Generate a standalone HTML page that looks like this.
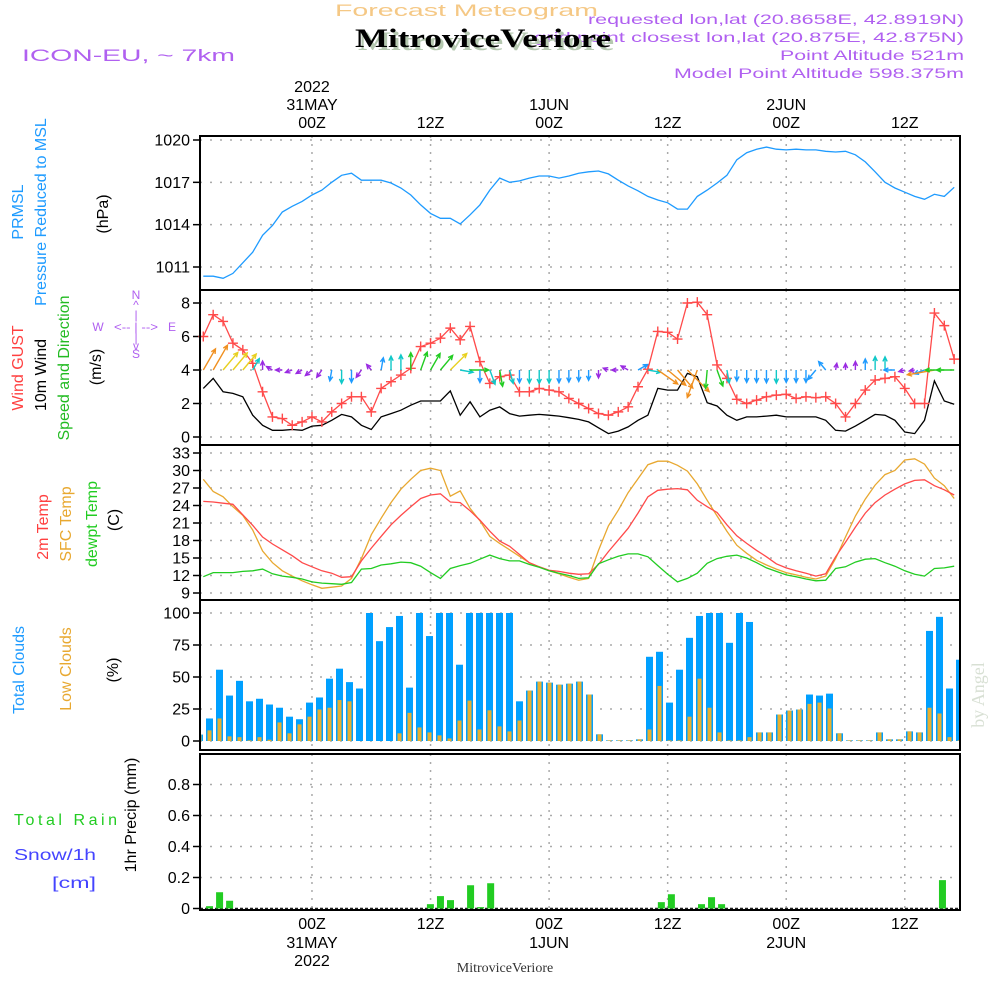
<!DOCTYPE html>
<html><head><meta charset="utf-8"><style>
html,body{margin:0;padding:0;background:#fff;}
svg{display:block;font-family:"Liberation Sans",sans-serif;}
</style></head><body>
<svg id="chart" width="1000" height="1000" viewBox="0 0 1000 1000" xmlns="http://www.w3.org/2000/svg">
<defs><clipPath id="clipPlot"><rect x="200" y="0" width="760" height="1000"/></clipPath></defs>
<g>
<text x="335" y="16" font-size="17" fill="#f5c885" textLength="263" lengthAdjust="spacingAndGlyphs">Forecast Meteogram</text>
<text x="964" y="24" font-size="14" fill="#b060f0" text-anchor="end" textLength="376" lengthAdjust="spacingAndGlyphs">requested lon,lat (20.8658E, 42.8919N)</text>
<text x="964" y="42" font-size="14" fill="#b060f0" text-anchor="end" textLength="430" lengthAdjust="spacingAndGlyphs">grid point closest lon,lat (20.875E, 42.875N)</text>
<text x="964" y="60" font-size="14" fill="#b060f0" text-anchor="end" textLength="184" lengthAdjust="spacingAndGlyphs">Point Altitude 521m</text>
<text x="964" y="78" font-size="14" fill="#b060f0" text-anchor="end" textLength="290" lengthAdjust="spacingAndGlyphs">Model Point Altitude 598.375m</text>
<text x="22" y="61" font-size="17" fill="#b060f0" textLength="213" lengthAdjust="spacingAndGlyphs">ICON-EU, ~ 7km</text>
<text x="358" y="50" font-size="26" font-weight="bold" fill="#b5c8b0" font-family="Liberation Serif,serif" textLength="256" lengthAdjust="spacingAndGlyphs">MitroviceVeriore</text>
<text x="355" y="47" font-size="26" font-weight="bold" fill="#000" font-family="Liberation Serif,serif" textLength="256" lengthAdjust="spacingAndGlyphs">MitroviceVeriore</text>
</g>
<g id="axes"></g>
<g font-size="16">
<text transform="translate(23,212) rotate(-90)" text-anchor="middle" fill="#1e9bff">PRMSL</text>
<text transform="translate(46,212) rotate(-90)" text-anchor="middle" fill="#1e9bff">Pressure Reduced to MSL</text>
<text transform="translate(108,214) rotate(-90)" text-anchor="middle" fill="#000">(hPa)</text>
<text transform="translate(23,368) rotate(-90)" text-anchor="middle" fill="#ff4040">Wind GUST</text>
<text transform="translate(46,375) rotate(-90)" text-anchor="middle" fill="#000">10m Wind</text>
<text transform="translate(69,368) rotate(-90)" text-anchor="middle" fill="#22bb22">Speed and Direction</text>
<text transform="translate(101,367) rotate(-90)" text-anchor="middle" fill="#000">(m/s)</text>
<text transform="translate(48,527) rotate(-90)" text-anchor="middle" fill="#ff4040">2m Temp</text>
<text transform="translate(71,524) rotate(-90)" text-anchor="middle" fill="#e8a830">SFC Temp</text>
<text transform="translate(97,524) rotate(-90)" text-anchor="middle" fill="#22cc22">dewpt Temp</text>
<text transform="translate(119,520) rotate(-90)" text-anchor="middle" fill="#000">(C)</text>
<text transform="translate(24,670) rotate(-90)" text-anchor="middle" fill="#1e9bff">Total Clouds</text>
<text transform="translate(71,669) rotate(-90)" text-anchor="middle" fill="#e8a830">Low Clouds</text>
<text transform="translate(118,670) rotate(-90)" text-anchor="middle" fill="#000">(%)</text>
<text transform="translate(136,815) rotate(-90)" text-anchor="middle" fill="#000">1hr Precip (mm)</text>
<text x="14" y="825" fill="#22cc22" textLength="103" lengthAdjust="spacing">Total  Rain</text>
<text x="14" y="860" fill="#4444ff" textLength="82" lengthAdjust="spacingAndGlyphs">Snow/1h</text>
<text x="52" y="888" fill="#4444ff" textLength="44" lengthAdjust="spacingAndGlyphs">[cm]</text>
</g>
<g fill="#b060f0" font-size="12" text-anchor="middle">
<text x="136" y="299">N</text><text x="136" y="309">^</text><text x="136" y="319">|</text>
<text x="98" y="331">W</text><text x="136" y="331" textLength="44" lengthAdjust="spacingAndGlyphs">&lt;-- | --&gt;</text><text x="172" y="331">E</text>
<text x="136" y="342">|</text><text x="136" y="350">v</text><text x="136" y="358">S</text>
</g>
<text transform="translate(984,695) rotate(-90)" text-anchor="middle" font-size="18" fill="#d8e0d4" font-family="Liberation Serif,serif">by Angel</text>
<text x="505" y="972" text-anchor="middle" font-size="14" font-family="Liberation Serif,serif" fill="#333">MitroviceVeriore</text>
</svg>
<script>
// ---- data ----
const pressure=[1010.35,1010.35,1010.2,1010.55,1011.3,1012.05,1013.25,1013.95,1014.9,1015.3,1015.65,1016.1,1016.45,1017.0,1017.5,1017.65,1017.15,1017.15,1017.15,1016.95,1016.6,1016.1,1015.4,1014.8,1014.45,1014.45,1014.05,1014.7,1015.4,1016.45,1017.3,1017.0,1017.1,1017.3,1017.45,1017.45,1017.3,1017.45,1017.65,1017.75,1017.8,1017.6,1017.15,1016.75,1016.4,1016.0,1015.75,1015.55,1015.1,1015.1,1016.0,1016.45,1016.95,1017.5,1018.6,1019.1,1019.35,1019.5,1019.35,1019.3,1019.35,1019.3,1019.3,1019.2,1019.15,1019.2,1018.95,1018.45,1017.75,1017.0,1016.6,1016.3,1016.0,1015.8,1016.15,1016.0,1016.65];
const gust=[6.0,7.3,6.9,5.6,5.2,4.4,2.7,1.2,1.1,0.7,0.9,1.2,0.9,1.5,2.0,2.4,2.4,1.5,2.9,3.3,3.7,4.1,5.4,5.6,5.9,6.5,5.8,6.6,4.5,3.2,3.6,3.7,2.7,2.7,2.9,2.8,2.7,2.3,2.0,1.7,1.4,1.3,1.5,1.8,3.0,4.05,6.3,6.25,5.85,8.0,8.05,7.3,4.3,3.5,2.25,2.0,2.2,2.4,2.5,2.55,2.3,2.4,2.35,2.4,2.0,1.2,2.0,2.8,3.4,3.5,3.6,2.9,2.0,2.0,7.4,6.65,4.65];
const wind10m=[2.9,3.5,2.7,2.6,2.4,1.3,0.7,0.4,0.4,0.45,0.4,0.65,0.7,1.0,1.35,1.2,0.7,0.45,1.2,1.4,1.6,1.9,2.15,2.15,2.15,2.75,1.3,2.1,1.2,1.6,1.8,1.4,1.25,1.3,1.35,1.3,1.25,1.15,1.05,0.9,0.55,0.2,0.35,0.6,1.0,1.3,2.9,2.8,2.8,3.8,3.6,2.05,1.85,1.3,1.0,1.2,1.2,1.25,1.3,1.2,1.2,1.2,1.2,1.0,0.4,0.35,0.65,1.0,1.35,1.3,1.0,0.3,0.2,1.0,3.35,2.15,1.95];
const windDir=[30,30,40,40,40,30,0,300,270,250,240,230,215,190,180,180,215,320,10,0,0,0,20,30,40,45,100,90,180,160,170,165,180,180,180,180,180,180,180,180,180,290,270,300,60,100,125,130,140,135,200,185,160,170,180,180,180,180,180,180,180,180,220,320,10,0,0,0,0,0,270,255,260,250,260,270,270];
const temp2m=[24.7,24.6,24.4,24.2,22.4,20.6,18.6,17.4,16.4,15.4,14.2,13.5,12.8,12.4,11.7,11.8,14.5,16.7,18.7,20.7,22.3,23.8,25.2,25.8,26.0,24.6,24.5,23.1,21.5,19.6,17.9,17.0,15.6,14.2,13.5,12.9,12.7,12.4,12.2,12.3,13.9,16.1,18.1,20.1,22.7,25.5,26.6,26.8,26.9,26.7,24.9,23.8,22.8,20.7,18.8,17.5,16.3,15.2,14.0,13.3,12.8,12.4,11.9,12.3,15.2,17.7,20.3,22.7,24.5,25.8,26.8,27.7,28.3,28.4,27.4,26.7,25.8];
const sfcTemp=[28.5,26.4,25.5,23.8,22.3,19.8,16.2,14.2,12.8,11.9,11.1,10.4,9.8,10.0,10.2,11.5,14.9,19.0,21.8,24.5,26.8,28.5,30.0,30.4,30.0,25.6,26.5,23.5,21.4,18.7,17.5,16.4,15.3,14.2,13.5,12.8,12.3,11.7,11.2,11.5,16.3,20.5,23.2,26.2,28.6,31.0,31.6,31.6,30.9,29.9,27.7,24.9,22.2,19.6,17.2,15.8,14.6,13.8,13.1,12.5,12.1,11.7,11.4,11.9,14.9,18.6,22.2,25.1,27.5,29.3,30.0,31.8,32.0,31.1,28.7,27.4,25.2];
const dewpt=[11.8,12.5,12.5,12.5,12.7,12.8,13.1,12.3,11.9,11.7,11.4,10.9,10.7,10.6,10.5,10.8,13.1,13.2,13.8,14.0,14.3,14.2,13.6,12.5,11.5,13.2,13.7,14.1,14.8,15.5,14.9,14.5,14.5,13.9,13.4,12.8,12.4,12.0,11.5,11.6,14.0,14.7,15.3,15.7,15.7,15.2,13.7,12.2,10.9,11.5,12.4,14.1,14.9,15.3,15.5,15.0,14.2,13.3,12.7,12.1,11.8,11.4,11.1,11.2,13.2,13.5,14.3,14.8,14.9,14.2,13.6,12.8,12.2,11.9,13.2,13.3,13.6];
const totalClouds=[5,17.6,55.7,35.5,47,31,33,28.5,26,19,17,30,34,48.7,56.5,46,41,100,78,89,97.7,41.7,100,82,100,100,59.6,100,100,100,100,100,31,39.4,46.4,45.6,44,44.8,46.4,36.3,5.2,0.5,0.5,0.5,1.3,65.8,69.7,30,55.7,80.6,97.7,100,100,76.7,100,93,6.7,6.7,20.7,23.8,24.6,36.3,35.5,37,6,0.5,0.5,0.5,6.7,1.3,1.3,7.5,6.7,86,97,41,63.5];
const lowClouds=[5,8.3,17.6,3.6,3,0.5,3,1,14.5,6,13,19,24.6,26,32,31,0,0,0,0,6,22,10.6,6.7,4.4,2,16,31.6,9,24,11.4,7.5,16,39.4,46.4,45.6,44,44.8,46.4,36.3,5.2,0.5,0.5,0.5,1.3,9,43,0.5,0.5,19,48.7,26,6.7,0.5,0.5,3,6.7,6.7,20.7,23.8,24.6,29,30,25.4,6,0.5,0.5,0.5,6.7,1.3,1.3,7.5,6.7,26,21.5,3,0.5];
const precip=[0,0.015,0.105,0.05,0,0,0,0,0,0,0,0,0,0,0,0,0,0,0,0,0,0,0,0.028,0.08,0.054,0,0.15,0.009,0.163,0,0,0,0,0,0,0,0,0,0,0,0,0,0,0,0,0.041,0.092,0,0,0.028,0.073,0.028,0,0,0,0,0,0,0,0,0,0,0,0,0,0,0,0,0,0,0,0,0,0.183,0,0];
const timeTop=[["2022","31MAY","00Z"],["","","12Z"],["","1JUN","00Z"],["","","12Z"],["","2JUN","00Z"],["","","12Z"]];
const timeBottom=[["00Z","31MAY","2022"],["12Z","",""],["00Z","1JUN",""],["12Z","",""],["00Z","2JUN",""],["12Z","",""]];
const timeHours=[11,23,35,47,59,71];
const pTicks=[1011,1014,1017,1020];
const wTicks=[0,2,4,6,8];
const tTicks=[9,12,15,18,21,24,27,30,33];
const cTicks=[0,25,50,75,100];
const rTicks=[0,0.2,0.4,0.6,0.8];

// ---- scales ----
const X0=200,X1=960;
const xi=i=>203.3+9.88*i;
const xb=k=>199.5+10*k;
const xr=k=>199.5+10.04*k;
function lin(v0,y0,v1,y1){return v=>y0+(v-v0)*(y1-y0)/(v1-v0);}
const yP=lin(1020,140,1011,267);
const yW=lin(0,437,8,303);
const yT=lin(9,593,33,453);
const yC=lin(0,741,100,613);
const yR=lin(0,908.5,0.8,784.5);
const panels=[{n:'pressure',t:136,b:290,s:yP,ticks:pTicks},{n:'wind',t:290,b:445,s:yW,ticks:wTicks},{n:'temperature',t:445,b:600,s:yT,ticks:tTicks},{n:'clouds',t:600,b:750,s:yC,ticks:cTicks},{n:'precip',t:754,b:910,s:yR,ticks:rTicks}];

const NS='http://www.w3.org/2000/svg';
const root=document.getElementById('axes');
function mk(tag,attrs,parent){const e=document.createElementNS(NS,tag);for(const k in attrs)e.setAttribute(k,attrs[k]);(parent||root).appendChild(e);return e;}

panels.forEach(p=>{
  const g=mk('g',{});
  
  
  p.g=g;
  p.ticks.forEach(v=>{
    const y=p.s(v);
    const gl=mk('line',{x1:X0,x2:X1,y1:y,y2:y,stroke:'#aaa','stroke-width':1.5,'stroke-dasharray':'2,8'},g);
    
    
    mk('line',{x1:193,x2:X0,y1:y,y2:y,stroke:'#000','stroke-width':1.5},g);
    const t=mk('text',{x:190,y:y+5.5,'text-anchor':'end','font-size':16,fill:'#000'},g);
    t.textContent=String(v);
    
    
  });
  timeHours.forEach(h=>{
    const x=xi(h);
    const vl=mk('line',{x1:x,x2:x,y1:p.t,y2:p.b,stroke:'#aaa','stroke-width':1.5,'stroke-dasharray':'2,6'},g);
    
    
  });
});

timeHours.forEach((h,j)=>{
  const x=xi(h);
  [86,104,122].forEach((y,r)=>{const s=timeTop[j][r];if(s){const t=mk('text',{x:x,y:y+6,'text-anchor':'middle','font-size':16,fill:'#000'});t.textContent=s;}});
  [923,942,960].forEach((y,r)=>{const s=timeBottom[j][r];if(s){const t=mk('text',{x:x,y:y+6,'text-anchor':'middle','font-size':16,fill:'#000'});t.textContent=s;}});
});

function poly(arr,scale,color,name,w){
  const pts=arr.map((v,i)=>xi(i).toFixed(1)+','+scale(v).toFixed(1)).join(' ');
  const e=mk('polyline',{points:pts,fill:'none',stroke:color,'stroke-width':w||1.3,'clip-path':'url(#clipPlot)'});
  
  
  return e;
}
poly(pressure,yP,'#1e9bff','pressure-line');
poly(wind10m,yW,'#000','wind-speed-line');
poly(gust,yW,'#ff4a4a','wind-gust-line');
gust.forEach((v,i)=>{
  const x=xi(i),y=yW(v);
  const m=mk('path',{d:`M${x-5},${y}H${x+5}M${x},${y-5}V${y+5}`,stroke:'#ff4a4a','stroke-width':1.4});
  
  
});
function windColor(s){if(s<0.8)return '#9a2be2';if(s<1.28)return '#1e9bff';if(s<1.7)return '#10c8c8';if(s<2.3)return '#22cc22';if(s<2.8)return '#e8d020';return '#f09020';}
windDir.forEach((d,i)=>{
  const s=wind10m[i];const L=4+7*s;const a=d*Math.PI/180;
  const x0=xi(i),y0=yW(4);const x1=x0+L*Math.sin(a),y1=y0-L*Math.cos(a);
  const h=5,ha=0.45;
  const bx=-Math.sin(a),by=Math.cos(a);
  const hx1=x1+h*(bx*Math.cos(ha)-by*Math.sin(ha)),hy1=y1+h*(bx*Math.sin(ha)+by*Math.cos(ha));
  const hx2=x1+h*(bx*Math.cos(-ha)-by*Math.sin(-ha)),hy2=y1+h*(bx*Math.sin(-ha)+by*Math.cos(-ha));
  const ar=mk('path',{d:`M${x0},${y0}L${x1},${y1}M${hx1},${hy1}L${x1},${y1}L${hx2},${hy2}`,stroke:windColor(s),'stroke-width':1.4,fill:'none','clip-path':'url(#clipPlot)'});
  
  
});
poly(sfcTemp,yT,'#e8a830','sfc-temp-line');
poly(temp2m,yT,'#ff4a4a','temp-2m-line');
poly(dewpt,yT,'#22cc22','dewpoint-line');
totalClouds.forEach((v,k)=>{
  const x=xb(k);
  const b=mk('rect',{x:x-3.5,y:yC(v),width:7,height:yC(0)-yC(v),fill:'#00a0ff','clip-path':'url(#clipPlot)'});
  
  
  const lv=lowClouds[k];
  const o=mk('rect',{x:x-2,y:yC(lv),width:4,height:yC(0)-yC(lv),fill:'#e8b030','clip-path':'url(#clipPlot)'});
  
  
});
mk('line',{x1:X0,x2:X1,y1:yR(0),y2:yR(0),stroke:'#222','stroke-width':1.5,'stroke-dasharray':'3,2'});
precip.forEach((v,k)=>{
  if(v<=0)return;
  const x=xr(k);
  const b=mk('rect',{x:x-3.5,y:yR(v),width:7,height:yR(0)-yR(v),fill:'#22cc22','clip-path':'url(#clipPlot)'});
  
  
});
panels.forEach(p=>{
  const r=mk('rect',{x:X0,y:p.t,width:X1-X0,height:p.b-p.t,fill:'none',stroke:'#000','stroke-width':2});
  
  
});
</script>
</body></html>
